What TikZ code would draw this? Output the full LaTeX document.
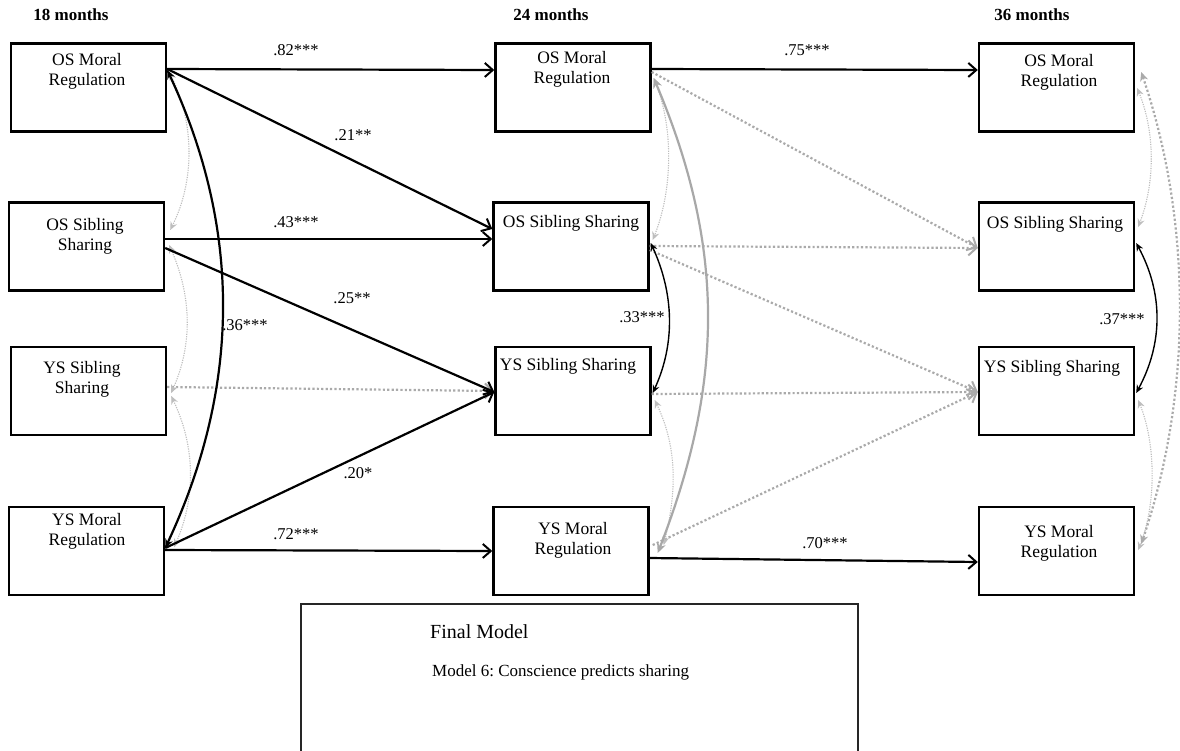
\documentclass[tikz,border=0pt]{standalone}
\usepackage{fontspec}
\setmainfont{Liberation Serif}
\usetikzlibrary{arrows.meta}
\frenchspacing
\definecolor{dotgray}{RGB}{170,170,170}
\definecolor{thingray}{RGB}{190,190,190}
\definecolor{solidgray}{RGB}{168,168,168}
\tikzset{
  varbox/.style={draw=black, line width=2.4pt, minimum width=155pt, minimum height=88pt, inner sep=0pt},
  ntext/.style={font=\fontsize{17.5}{20}\selectfont, align=center, inner sep=0pt},
  lbl/.style={font=\fontsize{16.5}{19}\selectfont, inner sep=0pt},
  hdr/.style={font=\fontsize{17}{20}\selectfont\bfseries, inner sep=0pt},
  blk/.style={draw=black, line width=2.2pt, -{Straight Barb[length=8pt,width=14pt,line width=2pt]}},
  gdot/.style={draw=dotgray, line width=2.2pt, dash pattern=on 2.2pt off 2.2pt, -{Straight Barb[length=8pt,width=15pt,line width=2pt]}},
  gdotd/.style={draw=dotgray, line width=2.2pt, dash pattern=on 2.2pt off 2.2pt, {Stealth[length=9pt,width=8pt]}-{Stealth[length=9pt,width=8pt]}},
  gthin/.style={draw=thingray, line width=1.1pt, dash pattern=on 1.2pt off 1.2pt, {Stealth[length=8pt,width=7pt]}-{Stealth[length=8pt,width=7pt]}},
  gsolid/.style={draw=solidgray, line width=2.2pt, {Stealth[length=10pt,width=9pt]}-{Stealth[length=10pt,width=9pt]}},
  corr/.style={draw=black, line width=1.4pt, {Stealth[length=8pt,width=7pt]}-{Stealth[length=8pt,width=7pt]}},
  corrthick/.style={draw=black, line width=2.2pt, {Stealth[length=9pt,width=8pt]}-{Stealth[length=9pt,width=8pt]}},
  legtitle/.style={font=\fontsize{20}{24}\selectfont, inner sep=0pt, anchor=west},
  legtext/.style={font=\fontsize{17}{20}\selectfont, inner sep=0pt, anchor=west},
}
\begin{document}
\begin{tikzpicture}[x=1pt,y=-1pt]
\useasboundingbox (0,0) rectangle (1180,750);
\fill[white] (0,0) rectangle (1180,750);

% headers
\node[hdr] (h18) at (71,15) {18 months};
\node[hdr] (h24) at (551,15) {24 months};
\node[hdr] (h36) at (1032,15) {36 months};

% boxes
\node[varbox] (A1) at (88.5,87.5) {};
\node[varbox] (B1) at (86.5,246.5) {};
\node[varbox] (C1) at (88.5,391) {};
\node[varbox] (D1) at (86.5,551) {};
\node[varbox] (A2) at (573,87.5) {};
\node[varbox] (B2) at (571,246.5) {};
\node[varbox] (C2) at (573,391) {};
\node[varbox] (D2) at (571,551) {};
\node[varbox] (A3) at (1056.5,87.5) {};
\node[varbox] (B3) at (1056.5,246.5) {};
\node[varbox] (C3) at (1056.5,391) {};
\node[varbox] (D3) at (1056.5,551) {};

% box texts
\node[ntext] (tA1) at (87,71) {OS Moral\\Regulation};
\node[ntext] (tB1) at (85,236) {OS Sibling\\Sharing};
\node[ntext] (tC1) at (82,379) {YS Sibling\\Sharing};
\node[ntext] (tD1) at (87,531) {YS Moral\\Regulation};
\node[ntext] (tA2) at (572,69) {OS Moral\\Regulation};
\node[ntext] (tB2) at (571,223) {OS Sibling Sharing};
\node[ntext] (tC2) at (568,366) {YS Sibling Sharing};
\node[ntext] (tD2) at (573,540) {YS Moral\\Regulation};
\node[ntext] (tA3) at (1059,72) {OS Moral\\Regulation};
\node[ntext] (tB3) at (1055,224) {OS Sibling Sharing};
\node[ntext] (tC3) at (1052,368) {YS Sibling Sharing};
\node[ntext] (tD3) at (1059,543) {YS Moral\\Regulation};

% gray dotted paths
\draw[gdot] ([yshift=4pt]C1.east) -- (C2.west);
\draw[gdot] ([yshift=15.5pt]A2.east) -- ([yshift=-1.5pt]B3.west);
\draw[gdot] ([yshift=0.5pt]B2.east) -- ([yshift=-1.5pt]B3.west);
\draw[gdot] ([yshift=-3.5pt]B2.east) -- ([yshift=-1pt]C3.west);
\draw[gdot] ([yshift=-3pt]C2.east) -- ([yshift=-1pt]C3.west);
\draw[gdot] ([xshift=3pt,yshift=6pt]D2.east) -- ([yshift=-1pt]C3.west);

% thin gray correlations
\draw[gthin] ([xshift=2pt,yshift=15.5pt]A1.east) .. controls +(25,50) and +(25,-50) .. ([xshift=5pt,yshift=16.5pt]B1.east);
\draw[gthin] ([xshift=4pt,yshift=1.5pt]B1.east) .. controls +(22,50) and +(22,-50) .. ([xshift=4pt,yshift=-2pt]C1.east);
\draw[gthin] ([xshift=4pt,yshift=-5pt]C1.east) .. controls +(24,50) and +(22,-50) .. ([xshift=9pt,yshift=4pt]D1.east);
\draw[gthin] ([xshift=2pt,yshift=9.5pt]A2.east) .. controls +(20,50) and +(20,-50) .. ([xshift=3pt,yshift=6.5pt]B2.east);
\draw[gthin] ([xshift=3pt,yshift=-9pt]C2.east) .. controls +(24,50) and +(12,-50) .. ([xshift=14pt,yshift=6pt]D2.east);
\draw[gthin] ([xshift=2pt,yshift=-0.5pt]A3.east) .. controls +(18,45) and +(17,-45) .. ([xshift=3pt,yshift=19.5pt]B3.east);
\draw[gthin] ([xshift=3pt,yshift=-9pt]C3.east) .. controls +(18,45) and +(18,-45) .. ([xshift=3pt,yshift=1pt]D3.east);
\draw[gsolid] ([xshift=2pt,yshift=9.5pt]A2.east) .. controls +(72,170) and +(66,-170) .. ([xshift=8pt,yshift=-2pt]D2.east);
\draw[gdotd] ([xshift=6pt,yshift=15.5pt]A3.east) .. controls +(51,150) and +(51,-150) .. ([xshift=6pt,yshift=7pt]D3.east);

% black paths
\draw[blk] ([yshift=18.5pt]A1.east) -- ([yshift=17.5pt]A2.west);
\draw[blk] ([yshift=18.5pt]A1.east) -- ([yshift=17.5pt]B2.west);
\draw[blk] ([yshift=7.5pt]B1.east) -- ([yshift=7.5pt]B2.west);
\draw[blk] ([yshift=-1.5pt]B1.east) -- ([yshift=-1pt]C2.west);
\draw[blk] ([yshift=3pt]D1.east) -- ([yshift=-1pt]C2.west);
\draw[blk] ([yshift=1pt]D1.east) -- (D2.west);
\draw[blk] ([yshift=18.5pt]A2.east) -- ([yshift=17.5pt]A3.west);
\draw[blk] ([yshift=-7pt]D2.east) -- ([yshift=-11pt]D3.west);
\draw[corrthick] ([yshift=17.5pt]A1.east) .. controls +(75,160) and +(75,-160) .. ([yshift=3pt]D1.east);
\draw[corr] ([xshift=1pt,yshift=3.5pt]B2.east) .. controls +(23,50) and +(23,-50) .. ([xshift=1pt,yshift=-2pt]C2.east);
\draw[corr] ([xshift=1pt,yshift=3.5pt]B3.east) .. controls +(27,50) and +(27,-50) .. ([xshift=1pt,yshift=-2pt]C3.east);

% labels
\node[lbl] (l82) at (296,50) {.82***};
\node[lbl] (l21) at (353,135) {.21**};
\node[lbl] (l43) at (296,222) {.43***};
\node[lbl] (l25) at (352,298) {.25**};
\node[lbl] (l36) at (245,325) {.36***};
\node[lbl] (l20) at (358,473) {.20*};
\node[lbl] (l72) at (296,534) {.72***};
\node[lbl] (l75) at (807,50) {.75***};
\node[lbl] (l33) at (642,317) {.33***};
\node[lbl] (l37) at (1122,319) {.37***};
\node[lbl] (l70) at (825,543) {.70***};

% legend frame
\draw[line width=1.3pt, draw=black!85] (301,751) -- (301,604) -- (858,604) -- (858,751);
\node[legtitle] (fm) at (430,632) {Final Model};
\node[legtext] (m6) at (432,672) {Model 6: Conscience predicts sharing};
\end{tikzpicture}
\end{document}
